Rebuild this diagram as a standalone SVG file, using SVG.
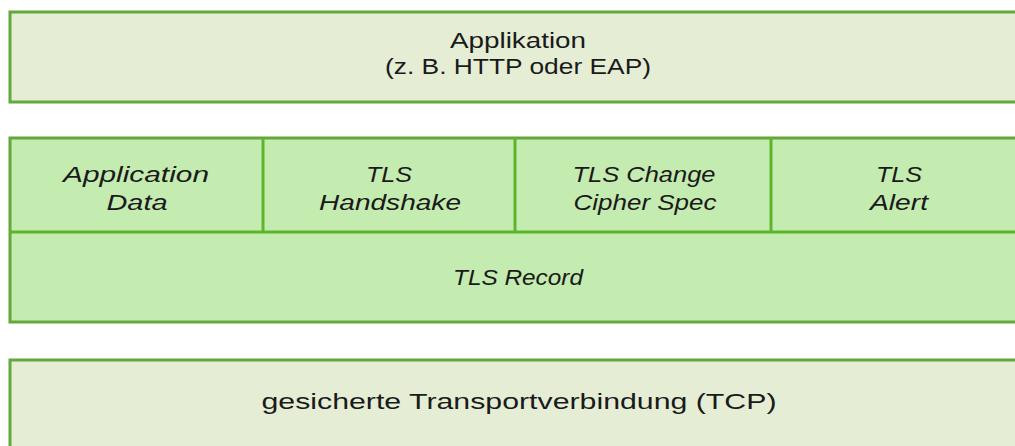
<svg xmlns="http://www.w3.org/2000/svg" width="1015" height="446" viewBox="0 0 1015 446">
<style>
.outer{fill:#e5edd5;stroke:#62a83a;stroke-width:3}
.mid{fill:#c4ebb0;stroke:#62a83a;stroke-width:3}
.div{stroke:#5db52c;stroke-width:3}
.t{font-family:"Liberation Sans",Arial,sans-serif;font-size:22px;fill:#1a1a1a;text-anchor:middle}
.i{font-style:italic}
</style>
<rect width="1015" height="446" fill="#ffffff"/>
<g id="applikation">
<rect class="outer" x="10" y="12" width="1020" height="90"/>
<text class="t" x="518" y="48" textLength="136" lengthAdjust="spacingAndGlyphs">Applikation</text>
<text class="t" x="518" y="74" textLength="266" lengthAdjust="spacingAndGlyphs">(z. B. HTTP oder EAP)</text>
</g>
<g id="tls">
<rect class="mid" x="10" y="138" width="1020" height="184"/>
</g>
<g id="connectors">
<line class="div" x1="10" y1="232" x2="1015" y2="232"/>
<line class="div" x1="263" y1="138" x2="263" y2="232"/>
<line class="div" x1="515" y1="138" x2="515" y2="232"/>
<line class="div" x1="771" y1="138" x2="771" y2="232"/>
</g>
<g id="application-data">
<text class="t i" x="136" y="182" textLength="146" lengthAdjust="spacingAndGlyphs">Application</text>
<text class="t i" x="137" y="210" textLength="61" lengthAdjust="spacingAndGlyphs">Data</text>
</g>
<g id="tls-handshake">
<text class="t i" x="389" y="182" textLength="46" lengthAdjust="spacingAndGlyphs">TLS</text>
<text class="t i" x="390" y="210" textLength="142" lengthAdjust="spacingAndGlyphs">Handshake</text>
</g>
<g id="tls-change-cipher-spec">
<text class="t i" x="644" y="182" textLength="143" lengthAdjust="spacingAndGlyphs">TLS Change</text>
<text class="t i" x="645" y="210" textLength="143" lengthAdjust="spacingAndGlyphs">Cipher Spec</text>
</g>
<g id="tls-alert">
<text class="t i" x="899" y="182" textLength="46" lengthAdjust="spacingAndGlyphs">TLS</text>
<text class="t i" x="899" y="210" textLength="58" lengthAdjust="spacingAndGlyphs">Alert</text>
</g>
<g id="tls-record">
<text class="t i" x="518" y="285" textLength="130" lengthAdjust="spacingAndGlyphs">TLS Record</text>
</g>
<g id="transport">
<rect class="outer" x="10" y="360" width="1020" height="100"/>
<text class="t" x="519" y="409" textLength="515" lengthAdjust="spacingAndGlyphs">gesicherte Transportverbindung (TCP)</text>
</g>
</svg>
